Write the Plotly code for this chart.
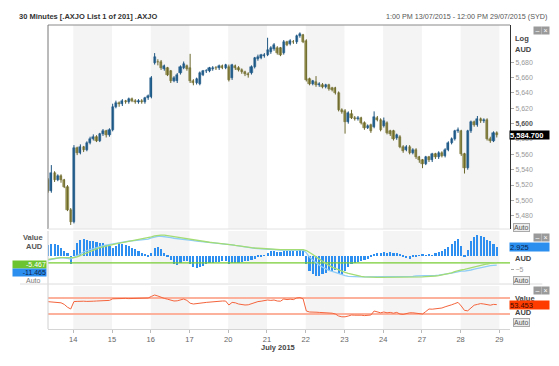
import plotly.graph_objects as go

# ---------------- data ----------------
day_labels = ["13", "14", "15", "16", "17", "20", "21", "22", "23", "24", "27", "28", "29"]
bars_per_day = 12          # 30-minute bars per session
first_day_first_slot = 4   # 13th starts at 1:00 PM

opens = [5527, 5512, 5536, 5527, 5532, 5526, 5518, 5488,
         5472, 5568, 5562, 5570, 5566, 5575, 5580, 5583, 5578, 5586, 5590, 5585,
         5592, 5622, 5627, 5625, 5630, 5628, 5632, 5630, 5628, 5630, 5628, 5633,
         5635, 5679, 5681, 5681, 5671, 5672, 5668, 5656, 5655, 5666, 5673, 5675,
         5672, 5656, 5653, 5652, 5664, 5668, 5669, 5671, 5673, 5672, 5675, 5673,
         5674, 5660, 5675, 5673, 5670, 5667, 5665, 5666, 5674, 5684, 5686, 5688,
         5690, 5693, 5697, 5699, 5698, 5692, 5706, 5704, 5707, 5706, 5714, 5715,
         5708, 5658, 5652, 5654, 5650, 5651, 5648, 5650, 5646, 5646, 5640, 5618,
         5617, 5602, 5613, 5608, 5606, 5607, 5601, 5595, 5598, 5596, 5608, 5605,
         5597, 5601, 5590, 5590, 5581, 5583, 5570, 5566, 5570, 5562, 5566, 5556,
         5552, 5548, 5556, 5552, 5560, 5556, 5562, 5558, 5566, 5575, 5580, 5590,
         5590, 5560, 5542, 5590, 5602, 5598, 5606, 5603, 5605, 5580, 5578, 5588]
closes = [5512, 5536, 5527, 5532, 5526, 5518, 5488, 5472,
          5568, 5562, 5570, 5566, 5575, 5580, 5583, 5578, 5586, 5590, 5585, 5592,
          5622, 5627, 5625, 5630, 5628, 5632, 5630, 5628, 5630, 5628, 5633, 5636,
          5660, 5687, 5680, 5672, 5675, 5664, 5655, 5660, 5664, 5674, 5678, 5671,
          5655, 5653, 5658, 5666, 5668, 5669, 5672, 5673, 5672, 5675, 5673, 5676,
          5657, 5676, 5672, 5670, 5667, 5665, 5663, 5674, 5685, 5687, 5689, 5690,
          5696, 5699, 5702, 5692, 5690, 5707, 5703, 5708, 5706, 5714, 5717, 5707,
          5657, 5652, 5655, 5650, 5652, 5648, 5650, 5645, 5644, 5640, 5618, 5615,
          5602, 5614, 5608, 5606, 5608, 5601, 5594, 5597, 5590, 5609, 5605, 5592,
          5604, 5588, 5586, 5580, 5585, 5570, 5565, 5570, 5562, 5566, 5556, 5552,
          5548, 5556, 5552, 5560, 5556, 5562, 5558, 5566, 5575, 5580, 5590, 5592,
          5560, 5542, 5590, 5602, 5598, 5606, 5603, 5605, 5580, 5578, 5588, 5584.7]
highs = [5529, 5546, 5538, 5534, 5534, 5528, 5520, 5490,
         5572, 5570, 5573, 5571, 5577, 5583, 5586, 5585, 5588, 5593, 5592, 5594,
         5626, 5630, 5629, 5632, 5631, 5634, 5634, 5632, 5632, 5632, 5635, 5638,
         5662, 5692, 5684, 5683, 5677, 5674, 5670, 5662, 5666, 5676, 5681, 5677,
         5691, 5658, 5660, 5668, 5670, 5671, 5674, 5675, 5675, 5677, 5677, 5678,
         5677, 5678, 5677, 5675, 5672, 5669, 5667, 5676, 5687, 5690, 5691, 5692,
         5712, 5701, 5705, 5701, 5700, 5709, 5708, 5710, 5709, 5716, 5719, 5717,
         5710, 5660, 5657, 5662, 5654, 5653, 5652, 5652, 5648, 5648, 5642, 5620,
         5619, 5616, 5618, 5610, 5610, 5609, 5603, 5599, 5600, 5616, 5610, 5607,
         5608, 5603, 5592, 5592, 5587, 5585, 5572, 5572, 5572, 5568, 5568, 5558,
         5554, 5558, 5558, 5562, 5562, 5564, 5564, 5568, 5577, 5582, 5592, 5595,
         5592, 5562, 5592, 5604, 5604, 5610, 5608, 5607, 5607, 5583, 5590, 5590]
lows = [5510, 5510, 5524, 5525, 5523, 5516, 5486, 5468,
        5470, 5559, 5560, 5563, 5564, 5573, 5578, 5576, 5576, 5584, 5582, 5583,
        5590, 5620, 5622, 5623, 5626, 5626, 5628, 5626, 5626, 5626, 5626, 5631,
        5633, 5677, 5676, 5670, 5669, 5662, 5653, 5654, 5653, 5664, 5671, 5669,
        5653, 5650, 5651, 5650, 5662, 5666, 5667, 5669, 5670, 5670, 5671, 5671,
        5655, 5657, 5670, 5668, 5665, 5662, 5660, 5664, 5672, 5682, 5684, 5686,
        5688, 5691, 5695, 5690, 5688, 5690, 5701, 5702, 5704, 5704, 5712, 5705,
        5655, 5650, 5650, 5648, 5648, 5646, 5646, 5643, 5642, 5638, 5616, 5613,
        5587, 5600, 5606, 5604, 5604, 5599, 5592, 5593, 5588, 5594, 5603, 5590,
        5595, 5586, 5584, 5578, 5579, 5568, 5562, 5564, 5560, 5560, 5554, 5549,
        5542, 5546, 5550, 5550, 5554, 5554, 5556, 5556, 5564, 5573, 5578, 5588,
        5558, 5535, 5540, 5588, 5596, 5596, 5601, 5601, 5578, 5575, 5576, 5582]

macd_hist = [3.9, 4.0, 4.1, 3.9, 2.7, 1.5, 0.8, -3.0,
             2.0, 4.3, 5.5, 5.8, 5.6, 5.3, 5.0, 4.8, 4.6, 4.3, 3.8, 3.5,
             2.7, 3.5, 4.4, 4.2, 3.8, 3.3, 2.8, 2.2, 1.5, 0.8, 0.3, -0.3,
             1.0, 2.8, 3.1, 2.5, 1.0, -0.3, -1.5, -2.8, -3.2, -2.6, -2.0, -1.8,
             -3.0, -4.0, -4.4, -4.0, -3.5, -3.0, -2.7, -2.5, -2.3, -2.2, -2.0, -2.0,
             -3.0, -2.5, -2.4, -2.5, -2.3, -2.0, -1.8, -1.5, -1.0, -0.5, -0.2, 0.2,
             1.0, 1.5, 1.8, 1.3, 1.2, 1.8, 1.7, 1.6, 1.5, 1.8, 1.9, 1.5,
             -3.0, -5.5, -6.5, -7.0, -7.0, -6.5, -6.0, -5.5, -5.5, -5.0, -6.5, -6.8,
             -5.5, -3.8, -3.0, -2.6, -2.2, -1.9, -1.6, -1.2, -0.6, 0.4, 0.8, 1.0,
             1.2, 1.0, 1.3, 0.8, 1.1, 0.6, -0.5, -0.9, -1.0, -0.6, -0.3, 0.2,
             0.3, 0.2, 0.6, 0.2, 0.8, 1.3, 1.8, 2.5, 3.2, 4.0, 5.0, 5.8,
             3.5, -0.5, 2.0, 5.0, 6.6, 7.2, 7.0, 6.5, 5.5, 5.0, 4.2, 2.925]
macd_line = [-1.5, -1.2, -1.0, -0.8, -0.7, -0.7, -0.9, -1.2,
             -0.5, 0.2, 0.8, 1.3, 1.8, 2.2, 2.6, 2.9, 3.2, 3.5, 3.7, 3.9,
             4.2, 4.5, 4.7, 4.9, 5.0, 5.1, 5.2, 5.3, 5.4, 5.5, 5.6, 5.8,
             6.2, 6.6, 6.8, 6.8, 6.7, 6.5, 6.3, 6.1, 6.0, 5.9, 5.8, 5.7,
             5.5, 5.3, 5.1, 5.0, 4.9, 4.8, 4.7, 4.6, 4.5, 4.4, 4.3, 4.2,
             4.0, 3.8, 3.6, 3.4, 3.2, 3.0, 2.8, 2.7, 2.6, 2.5, 2.4, 2.3,
             2.2, 2.2, 2.1, 2.1, 2.0, 2.0, 2.0, 2.0, 2.0, 2.0, 2.1, 2.0,
             1.0, -0.5, -1.5, -2.5, -3.3, -4.0, -4.6, -5.1, -5.5, -5.9, -6.3, -6.7,
             -7.0, -7.2, -7.3, -7.4, -7.4, -7.4, -7.4, -7.4, -7.3, -7.3, -7.2, -7.2,
             -7.2, -7.2, -7.2, -7.2, -7.2, -7.2, -7.2, -7.2, -7.2, -7.2, -7.1, -7.1,
             -7.1, -7.1, -7.0, -7.0, -6.9, -6.8, -6.7, -6.5, -6.3, -6.1, -5.8, -5.5,
             -5.4, -5.4, -5.3, -5.0, -4.7, -4.4, -4.1, -3.9, -3.7, -3.5, -3.4, -3.3]
signal_line = [-1.3, -1.1, -0.9, -0.8, -0.7, -0.7, -0.7, -0.8,
               -0.7, -0.4, 0.1, 0.6, 1.1, 1.6, 2.0, 2.4, 2.8, 3.1, 3.4, 3.7,
               3.9, 4.2, 4.4, 4.6, 4.8, 5.0, 5.2, 5.4, 5.6, 5.8, 6.0, 6.3,
               6.6, 6.9, 7.1, 7.2, 7.2, 7.1, 6.9, 6.7, 6.5, 6.3, 6.1, 5.9,
               5.7, 5.5, 5.3, 5.1, 4.9, 4.8, 4.7, 4.6, 4.5, 4.4, 4.3, 4.2,
               4.0, 3.8, 3.6, 3.4, 3.2, 3.0, 2.9, 2.8, 2.7, 2.6, 2.5, 2.4,
               2.3, 2.3, 2.2, 2.2, 2.1, 2.1, 2.1, 2.1, 2.1, 2.1, 2.1, 2.1,
               1.8, 1.2, 0.4, -0.4, -1.2, -2.0, -2.7, -3.4, -4.0, -4.5, -5.0, -5.4,
               -5.8, -6.2, -6.5, -6.8, -7.0, -7.2, -7.4, -7.5, -7.6, -7.6, -7.6, -7.6,
               -7.6, -7.6, -7.6, -7.6, -7.6, -7.5, -7.5, -7.5, -7.5, -7.5, -7.4, -7.4,
               -7.4, -7.3, -7.3, -7.2, -7.1, -7.0, -6.8, -6.6, -6.3, -6.0, -5.6, -5.2,
               -5.0, -4.8, -4.5, -4.2, -3.9, -3.6, -3.3, -3.1, -2.9, -2.7, -2.6, -2.5]
rsi = [60.8, 60.5, 60, 59, 58, 54, 47, 42.5,
       61, 61.5, 62.5, 62, 61.5, 61, 62, 62.5, 63, 63.5, 63.5, 64,
       68, 68.5, 69, 69.5, 69, 68.5, 69, 69.5, 69, 70, 69.5, 70,
       74, 77.5, 75, 71, 69, 67, 64, 62.5, 63, 65, 67.5, 64,
       57, 55, 55.5, 57, 58, 59, 60, 61, 61.5, 62, 62.5, 62.5,
       52.5, 59, 58, 55, 53, 52.5, 53, 56, 59, 61, 62, 63,
       65, 64, 65, 62.5, 62, 67.5, 66, 67, 66, 70, 71, 68,
       37.5, 35, 34, 34.5, 34, 33.5, 34, 33, 32, 30, 25, 23,
       23, 25, 27.5, 27, 27.5, 27, 26, 27, 27.5, 37.5, 36, 33,
       35, 33, 34, 32, 34, 30, 29, 31, 33, 33, 32, 31,
       30, 36, 42.5, 42, 43, 42.5, 45, 48, 50, 53, 56, 59,
       50, 39, 38, 45, 52, 54, 56, 55, 53, 52, 54, 53.453]
rsi_levels = [70, 30]

price_ticks = list(range(5480, 5700, 20))
price_range = [5462.7, 5728.6]
macd_range = [-9.55, 8.64]
macd_ticks = [-5]
rsi_range = [-7.5, 100]
macd_left_labels = ["-5.467", "-11.465"]

title_left = "30 Minutes [.AXJO List 1 of 201] .AXJO"
title_right = "1:00 PM 13/07/2015 - 12:00 PM 29/07/2015 (SYD)"
month_label = "July 2015"

# ---------------- layout helpers ----------------
# page body has an 8px margin, so the figure is sized to fit the window exactly
OFF = 8
WIN_W, WIN_H = 559, 366
W, H = WIN_W - OFF, WIN_H - OFF
PLOT_L, PLOT_R, PLOT_T, PLOT_B = 48, 510, 25, 329      # window pixels
ML, MR = PLOT_L - OFF, WIN_W - PLOT_R
MT, MB = PLOT_T - OFF, WIN_H - PLOT_B
PW, PH = W - ML - MR, H - MT - MB
FONT = "Liberation Sans"
UP_FILL, UP_LINE = "#2a6b9b", "#1d5580"
DN_FILL, DN_LINE = "#9d9752", "#6c682c"


def pxx(px):
    return (px - PLOT_L) / PW


def pxy(py):
    return (PLOT_B - py) / PH


x_range = [0.347, 12.275]

xs = []
for d in range(len(day_labels) - 1):
    k0 = first_day_first_slot if d == 0 else 0
    for k in range(k0, bars_per_day):
        xs.append(d + (k + 0.2) / bars_per_day)

fig = go.Figure()

# candles: wicks + bodies
up = [c >= o for o, c in zip(opens, closes)]
for is_up, col in ((True, UP_LINE), (False, DN_LINE)):
    wx, wy = [], []
    for x, h, l, u in zip(xs, highs, lows, up):
        if u == is_up:
            wx += [x, x, None]
            wy += [l, h, None]
    fig.add_trace(go.Scatter(x=wx, y=wy, xaxis="x", yaxis="y", mode="lines",
                             line=dict(color=col, width=1), showlegend=False,
                             hoverinfo="skip"))
body_base = [min(o, c) for o, c in zip(opens, closes)]
body_len = [max(abs(c - o), 0.8) for o, c in zip(opens, closes)]
fig.add_trace(go.Bar(
    x=xs, y=body_len, base=body_base, xaxis="x", yaxis="y", width=0.055,
    marker=dict(color=[UP_FILL if u else DN_FILL for u in up],
                line=dict(color=[UP_LINE if u else DN_LINE for u in up], width=0.5)),
    showlegend=False, hoverinfo="skip"))

fig.add_trace(go.Bar(x=xs, y=macd_hist, xaxis="x2", yaxis="y2",
                     marker=dict(color="#2e8ff0", line=dict(width=0)),
                     width=0.055, showlegend=False))
fig.add_trace(go.Scatter(x=x_range, y=[signal_line[-1]] * 2, xaxis="x2", yaxis="y2",
                         mode="lines", line=dict(color="#77cc33", width=1.2), showlegend=False))
fig.add_trace(go.Scatter(x=xs, y=macd_line, xaxis="x2", yaxis="y2", mode="lines",
                         line=dict(color="#8fcdf6", width=1.3), showlegend=False))
fig.add_trace(go.Scatter(x=xs, y=signal_line, xaxis="x2", yaxis="y2", mode="lines",
                         line=dict(color="#a3dc74", width=1.3), showlegend=False))

for lv in rsi_levels:
    fig.add_trace(go.Scatter(x=x_range, y=[lv, lv], xaxis="x3", yaxis="y3", mode="lines",
                             line=dict(color="#fbb19c", width=2), showlegend=False))
fig.add_trace(go.Scatter(x=xs, y=rsi, xaxis="x3", yaxis="y3", mode="lines",
                         line=dict(color="#f4643c", width=1), showlegend=False))

# alternating day shading
shapes = []
for ax, yd in (("x", "y domain"), ("x2", "y2 domain"), ("x3", "y3 domain")):
    for d in range(1, len(day_labels) - 1, 2):
        shapes.append(dict(type="rect", xref=ax, yref=yd, x0=d, x1=d + 1, y0=0, y1=1,
                           fillcolor="#f4f4f4", line=dict(width=0), layer="below"))

main_dom = [pxy(229), 1]
macd_dom = [pxy(283), pxy(231)]
rsi_dom = [0, pxy(286)]

# frame lines
shapes += [
    dict(type="line", xref="paper", yref="paper", x0=0, x1=1, y0=1, y1=1,
         line=dict(color="#8a8a8a", width=1)),
    dict(type="line", xref="paper", yref="paper", x0=0, x1=0, y0=main_dom[0], y1=1,
         line=dict(color="#777", width=1)),
    dict(type="line", xref="paper", yref="paper", x0=0, x1=0, y0=0, y1=macd_dom[1],
         line=dict(color="#d0d0d0", width=1)),
    dict(type="line", xref="paper", yref="paper", x0=0, x1=1, y0=main_dom[0], y1=main_dom[0],
         line=dict(color="#e2e2e2", width=1)),
    dict(type="line", xref="paper", yref="paper", x0=pxx(20), x1=1.07, y0=pxy(284), y1=pxy(284),
         line=dict(color="#dcdcdc", width=1)),
]

axis_common = dict(range=x_range, showgrid=False, zeroline=False, showline=False,
                   fixedrange=True)
tick_font = dict(family=FONT, size=7, color="#999")

price_text = []
for v in price_ticks:
    t = f"{v:,}"
    price_text.append(f"<b><span style='color:#555'>{t}</span></b>" if v == 5600 else t)

fig.update_layout(
    width=W, height=H, margin=dict(l=ML, r=MR, t=MT, b=MB, autoexpand=False),
    paper_bgcolor="white", plot_bgcolor="white", template="none",
    showlegend=False, bargap=0, barmode="overlay",
    xaxis=dict(domain=[0, 1], anchor="y", showticklabels=False, ticks="", **axis_common),
    xaxis2=dict(domain=[0, 1], anchor="y2", showticklabels=False, ticks="",
                matches="x", **axis_common),
    xaxis3=dict(domain=[0, 1], anchor="y3", matches="x",
                tickmode="array", tickvals=list(range(1, len(day_labels))),
                ticktext=day_labels[1:], ticks="outside", ticklen=3, tickcolor="#bbb",
                tickfont=dict(family=FONT, size=7.5, color="#666"),
                range=x_range, showgrid=False, zeroline=False,
                showline=True, linecolor="#d5d5d5"),
    yaxis=dict(domain=main_dom, anchor="x", side="right", range=price_range,
               tickmode="array", tickvals=price_ticks, ticktext=price_text,
               ticks="outside", ticklen=3, tickcolor="#aaa", tickfont=tick_font,
               showline=True, linecolor="#333", linewidth=1,
               showgrid=False, zeroline=False),
    yaxis2=dict(domain=macd_dom, anchor="x2", side="right", range=macd_range,
                tickmode="array", tickvals=macd_ticks, ticks="outside", ticklen=3,
                tickcolor="#aaa", tickfont=tick_font, showline=False,
                showgrid=False, zeroline=False),
    yaxis3=dict(domain=rsi_dom, anchor="x3", side="right", range=rsi_range,
                showticklabels=False, ticks="", showline=False,
                showgrid=False, zeroline=False),
    shapes=shapes,
)


def label(px, py, text, size=7.5, color="#444", xanchor="left", **kw):
    return dict(x=pxx(px), y=pxy(py), xref="paper", yref="paper", text=text,
                showarrow=False, xanchor=xanchor, yanchor="middle",
                font=dict(family=FONT, size=size, color=color), **kw)


def tag(py_ref, yref, text, bg, fg):
    return dict(x=pxx(509), y=py_ref, xref="paper", yref=yref, text=text,
                showarrow=False, xanchor="left", yanchor="middle", align="left",
                width=39, height=8, bgcolor=bg, borderpad=0,
                font=dict(family=FONT, size=7.5, color=fg))


def button(px, py, text):
    return label(px, py, text, size=7, color="#555", xanchor="center",
                 bgcolor="#ececec", bordercolor="#aaa", borderwidth=1, borderpad=0)


def icons(py):
    return [label(537, py, "–", size=7, color="white", xanchor="center",
                  bgcolor="#9a9a9a", borderpad=0, width=7, height=7),
            label(545, py, "×", size=7, color="white", xanchor="center",
                  bgcolor="#9a9a9a", borderpad=0, width=7, height=7)]


annotations = [
    label(17, 16, f"<b>{title_left}</b>", size=7.5, color="#333"),
    label(549, 16, title_right, size=7.2, color="#555", xanchor="right"),
    label(278, 347, f"<b>{month_label}</b>", size=7.5, color="#444", xanchor="center"),
    label(513, 39, "<b>Log</b>", size=7.5, color="#444"),
    label(513, 49, "<b>AUD</b>", size=7.5, color="#444"),
    label(513, 258, "<b>AUD</b>", size=7.5, color="#444"),
    label(513, 298, "<b>Value</b>", size=7.5, color="#444"),
    label(513, 312, "<b>AUD</b>", size=7.5, color="#444"),
    label(45, 237, "<b>Value</b>", size=7.5, color="#555", xanchor="right"),
    label(45, 246, "<b>AUD</b>", size=7.5, color="#555", xanchor="right"),
    label(47, 264.5, macd_left_labels[0], size=7, color="white", xanchor="right",
          bgcolor="#6cc530", width=33, height=7, align="right", borderpad=0),
    label(47, 272, macd_left_labels[1], size=7, color="#0b1f4a", xanchor="right",
          bgcolor="#2b8ff0", width=33, height=7, align="right", borderpad=0),
    label(33, 280, "Auto", size=7, color="#777", xanchor="center"),
    button(521, 227, "Auto"),
    button(521, 280, "Auto"),
    button(521, 322, "Auto"),
    tag(closes[-1], "y", f"<b>{closes[-1]:,.3f}</b>", "#000000", "white"),
    tag(macd_hist[-1], "y2", f"{macd_hist[-1]:.3f}", "#2b8ff0", "#0b1f4a"),
    tag(rsi[-1], "y3", f"{rsi[-1]:.3f}", "#ff3c00", "#3a0a00"),
]
for py in (30, 237, 290):
    annotations += icons(py)

fig.update_layout(annotations=annotations)

fig.write_html("out.html")
